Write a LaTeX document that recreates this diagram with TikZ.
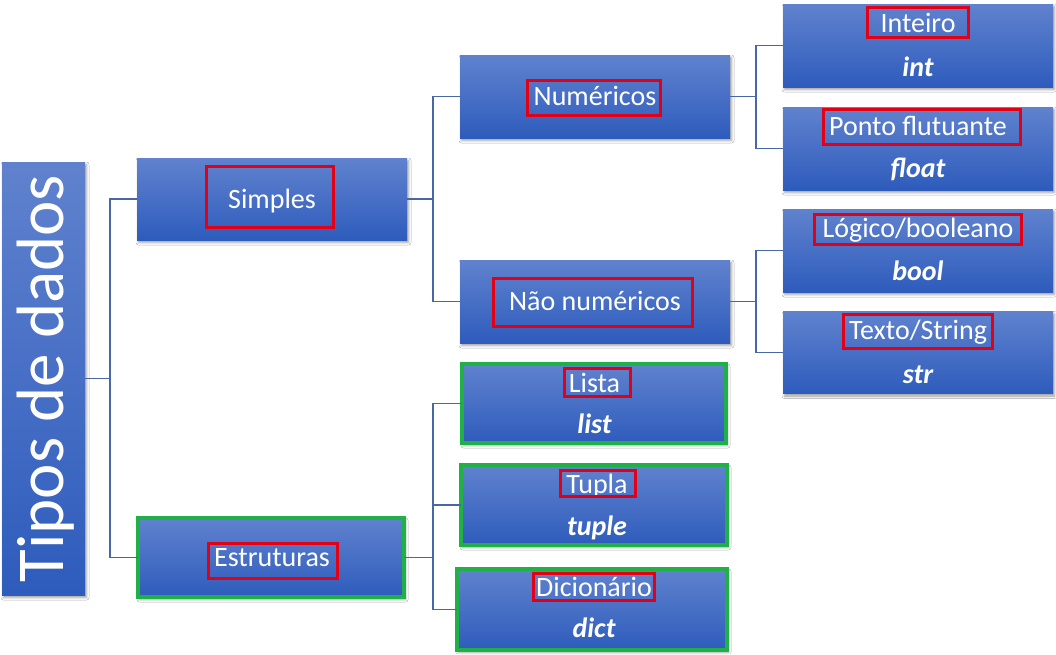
\documentclass[tikz,border=0pt]{standalone}
\usepackage{fontspec}
\setmainfont{Carlito}
\usetikzlibrary{shadows.blur}
\definecolor{boxtop}{RGB}{96,130,206}
\definecolor{boxbot}{RGB}{46,92,188}
\definecolor{linec}{RGB}{72,104,165}
\definecolor{redc}{RGB}{228,0,20}
\definecolor{greenc}{RGB}{32,176,72}
\begin{document}
\begin{tikzpicture}[x=1pt,y=-1pt,
  box/.style={rectangle, inner sep=0pt, outer sep=0pt, top color=boxtop, bottom color=boxbot,
    blur shadow={shadow xshift=1.5pt, shadow yshift=-2.5pt, shadow blur radius=2.5pt, shadow opacity=40}},
  gbox/.style={box, draw=greenc, line width=4pt},
  lbl/.style={text=white, inner sep=0pt, anchor=base, font=\fontsize{28}{32}\selectfont},
  code/.style={lbl, font=\fontsize{28}{32}\selectfont\bfseries\itshape},
  redbox/.style={draw=redc, line width=3pt},
  link/.style={draw=linec, line width=1.4pt},
]
\useasboundingbox[fill=white] (0,0) rectangle (1056,654);

% boxes
\node[box, minimum width=83pt, minimum height=433pt] (root) at (43.5,378.5) {};
\node[box, minimum width=270pt, minimum height=82pt] (simples) at (272,199) {};
\node[gbox, minimum width=266pt, minimum height=79pt] (estr) at (271,557.5) {};
\node[box, minimum width=270pt, minimum height=83pt] (num) at (595,96.5) {};
\node[box, minimum width=270pt, minimum height=83pt] (nao) at (595,301.5) {};
\node[box, minimum width=270pt, minimum height=83pt] (int) at (918,45.5) {};
\node[box, minimum width=270pt, minimum height=83pt] (flt) at (918,148.5) {};
\node[box, minimum width=270pt, minimum height=83pt] (bool) at (918,250.5) {};
\node[box, minimum width=270pt, minimum height=82pt] (str) at (918,352.5) {};
\node[gbox, minimum width=264pt, minimum height=79pt] (lista) at (594,403.5) {};
\node[gbox, minimum width=266pt, minimum height=80pt] (tupla) at (594,505) {};
\node[gbox, minimum width=270pt, minimum height=81pt] (dict) at (592,609.5) {};

% connectors
\draw[link] (root.east) -- ++(25,0) coordinate (j1);
\draw[link] (simples.west) -| (j1) |- (estr.west);
\draw[link] (simples.east) -- ++(26,0) coordinate (j2);
\draw[link] (num.west) -| (j2) |- (nao.west);
\draw[link] (num.east) -- ++(26,0) coordinate (j3);
\draw[link] (int.west) -| (j3) |- (flt.west);
\draw[link] (nao.east) -- ++(26,0) coordinate (j4);
\draw[link] (bool.west) -| (j4) |- (str.west);
\draw[link] (estr.east) -- ++(29,0) coordinate (j5);
\draw[link] (lista.west) -| (j5) |- (dict.west);
\draw[link] (j5 |- tupla.west) -- (tupla.west);

% texts
\node[text=white, inner sep=0pt, anchor=base, rotate=90, font=\fontsize{67}{70}\selectfont] (troot) at (63,378.5) {Tipos de dados};
\node[lbl] (tsimples) at (272,208) {Simples};
\node[lbl] (testr) at (272,566) {Estruturas};
\node[lbl] (tnum) at (595,105) {Numéricos};
\node[lbl] (tnao) at (595,310) {Não numéricos};
\node[lbl] (tint) at (918,32) {Inteiro};
\node[code] (cint) at (918,76) {int};
\node[lbl] (tflt) at (918,135) {Ponto flutuante};
\node[code] (cflt) at (918,177) {float};
\node[lbl] (tbool) at (918,237) {Lógico/booleano};
\node[code] (cbool) at (918,280) {bool};
\node[lbl] (tstr) at (918,339) {Texto/String};
\node[code] (cstr) at (918,383) {str};
\node[lbl] (tlista) at (594.5,392) {Lista};
\node[code] (clista) at (594.5,433) {list};
\node[lbl] (ttupla) at (597,493) {Tupla};
\node[code] (ctupla) at (597,535) {tuple};
\node[lbl] (tdict) at (594,596) {Dicionário};
\node[code] (cdict) at (594,637) {dict};

% red highlight frames
\draw[redbox] (206.5,166.5) rectangle (333.5,227.5);
\draw[redbox] (208.5,543.5) rectangle (337.5,578.5);
\draw[redbox] (527.5,80.5) rectangle (660.5,115.5);
\draw[redbox] (493.5,278.5) rectangle (692.5,326.5);
\draw[redbox] (867.5,7.5) rectangle (968.5,37.5);
\draw[redbox] (823.5,109.5) rectangle (1020.5,144.5);
\draw[redbox] (814.5,214.5) rectangle (1021.5,244.5);
\draw[redbox] (843.5,314.5) rectangle (992.5,348.5);
\draw[redbox] (564.5,368.5) rectangle (630.5,396.5);
\draw[redbox] (560.5,470.5) rectangle (635.5,496.5);
\draw[redbox] (533.5,573.5) rectangle (654.5,600.5);
\end{tikzpicture}
\end{document}
